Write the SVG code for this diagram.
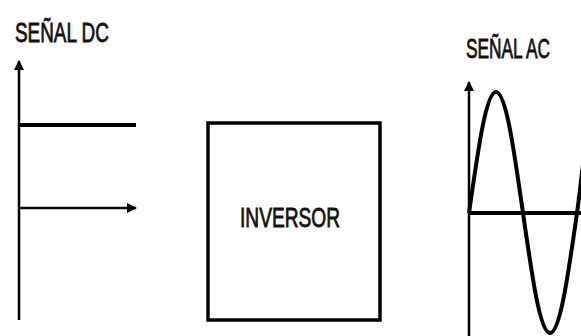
<svg xmlns="http://www.w3.org/2000/svg" width="581" height="336" viewBox="0 0 581 336">
<style>
.t{font-family:"Liberation Sans Narrow","Liberation Sans",Arial,sans-serif;font-size:27px;fill:#111;stroke:#111;stroke-width:0.8;}
.ax{stroke:#000;stroke-width:2.5;fill:none;}
.sig{stroke:#000;stroke-width:4;fill:none;}
</style>
<defs>
<marker id="arr" viewBox="0 0 10 10" refX="9" refY="5" markerWidth="4" markerHeight="4" orient="auto" markerUnits="strokeWidth">
<path d="M0,0 L10,5 L0,10 z" fill="#000"/>
</marker>
</defs>
<rect width="581" height="336" fill="#fff"/>
<g id="dc">
<text class="t" transform="translate(15,42) scale(0.7,1)" x="0" y="0" textLength="134" lengthAdjust="spacingAndGlyphs">SEÑAL DC</text>
<line class="ax" x1="19" y1="320" x2="19" y2="61" marker-end="url(#arr)"/>
<line class="sig" x1="19" y1="125" x2="136" y2="125"/>
<line class="ax" x1="19" y1="208" x2="136" y2="208" marker-end="url(#arr)"/>
</g>
<g id="inversor">
<rect x="208" y="123" width="172" height="197" fill="none" stroke="#000" stroke-width="3.5"/>
<text class="t" transform="translate(240,227) scale(0.7,1)" x="0" y="0" textLength="143" lengthAdjust="spacingAndGlyphs">INVERSOR</text>
</g>
<g id="ac">
<text class="t" transform="translate(466,58) scale(0.7,1)" x="0" y="0" textLength="120" lengthAdjust="spacingAndGlyphs">SEÑAL AC</text>
<line class="ax" x1="469" y1="336" x2="469" y2="82" marker-end="url(#arr)"/>
<line class="sig" x1="469" y1="213" x2="581" y2="213"/>
<path class="sig" d="M469,213 C478,150 486,92 496,92 C506,92 514,150 523,213 C532,276 540,333 550,333 C560,333 568,276 577,213 C580,192 582,170 585,150"/>
</g>
<g id="connectors"></g>
</svg>
